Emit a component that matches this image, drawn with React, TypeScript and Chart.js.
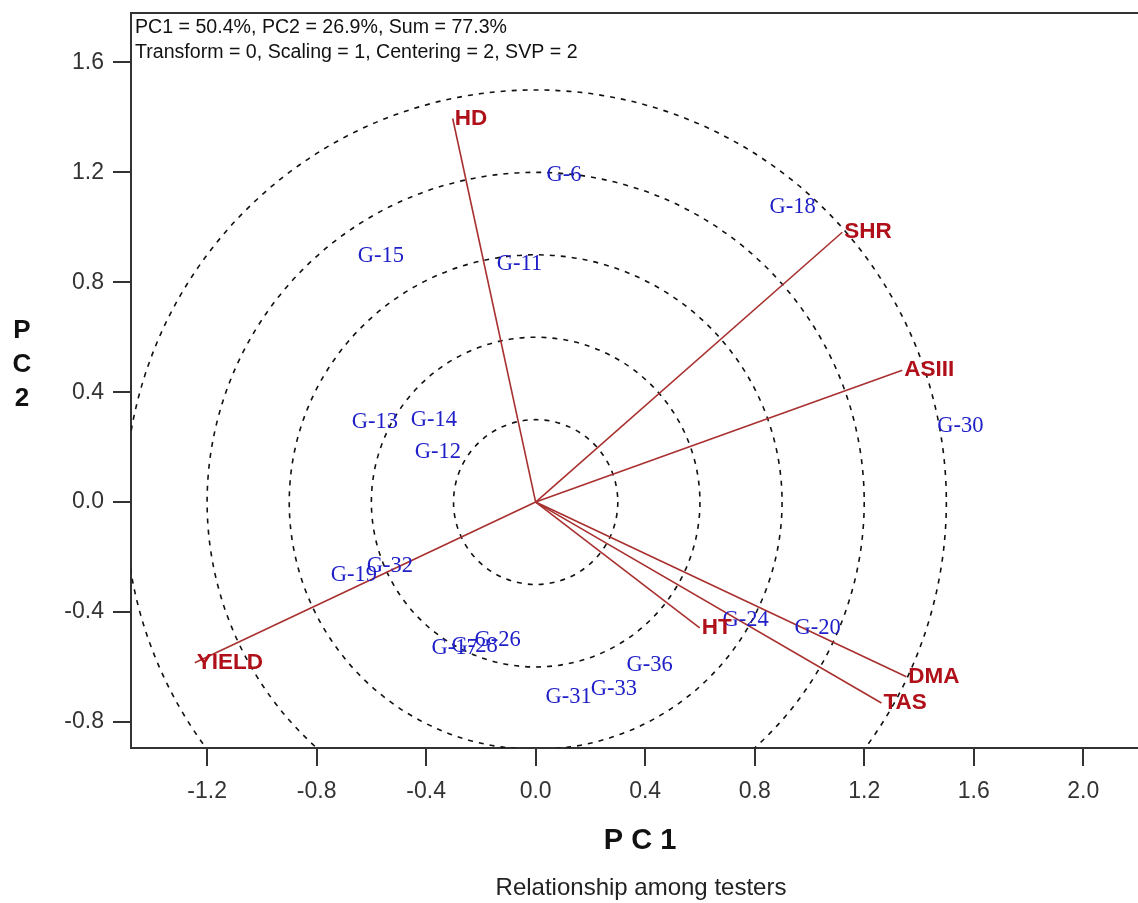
import React, { useEffect, useRef } from "react";
import { Chart, registerables } from "chart.js";

Chart.register(...registerables);

// ---- data ----
const testerNames = ["HD", "SHR", "ASIII", "DMA", "TAS", "HT", "YIELD"];
const testerPC1 = [-0.303, 1.12, 1.339, 1.354, 1.263, 0.599, -1.245];
const testerPC2 = [1.396, 0.982, 0.48, -0.636, -0.731, -0.458, -0.585];

const genNames = [
  "G-6", "G-18", "G-15", "G-11", "G-13", "G-14", "G-12", "G-30", "G-32",
  "G-19", "G-17", "G-28", "G-26", "G-36", "G-33", "G-31", "G-24", "G-20",
];
const genPC1 = [
  0.04, 0.854, -0.65, -0.142, -0.672, -0.456, -0.442, 1.467, -0.617,
  -0.748, -0.38, -0.307, -0.223, 0.332, 0.201, 0.036, 0.682, 0.945,
];
const genPC2 = [
  1.189, 1.073, 0.895, 0.865, 0.291, 0.298, 0.182, 0.276, -0.233,
  -0.265, -0.531, -0.524, -0.502, -0.593, -0.68, -0.709, -0.429, -0.458,
];

const ringRadii = [0.3, 0.6, 0.9, 1.2, 1.5];
const xTicks = [-1.2, -0.8, -0.4, 0.0, 0.4, 0.8, 1.2, 1.6, 2.0];
const yTicks = [-0.8, -0.4, 0.0, 0.4, 0.8, 1.2, 1.6];

const infoLines = [
  "PC1 = 50.4%, PC2 = 26.9%, Sum = 77.3%",
  "Transform = 0, Scaling = 1, Centering = 2, SVP = 2",
];
const xTitle = "P C 1";
const yTitle = ["P", "C", "2"];
const caption = "Relationship among testers";

const RED_LINE = "#a8302f";
const RED_TEXT = "#b0101a";
const BLUE = "#2020c8";
const AXIS = "#333333";

const biplotPlugin = {
  id: "biplot",
  beforeDatasetsDraw(chart: any) {
    const { ctx, chartArea, scales } = chart;
    const xs = scales.x;
    const ys = scales.y;
    const cx = xs.getPixelForValue(0);
    const cy = ys.getPixelForValue(0);
    ctx.save();
    ctx.beginPath();
    ctx.rect(chartArea.left, chartArea.top, chartArea.right - chartArea.left, chartArea.bottom - chartArea.top);
    ctx.clip();
    ctx.strokeStyle = "#111";
    ctx.lineWidth = 1.6;
    ctx.setLineDash([5, 6]);
    ringRadii.forEach((r) => {
      const rx = Math.abs(xs.getPixelForValue(r) - cx);
      const ry = Math.abs(ys.getPixelForValue(r) - cy);
      ctx.beginPath();
      ctx.ellipse(cx, cy, rx, ry, 0, 0, Math.PI * 2);
      ctx.stroke();
    });
    ctx.restore();
  },
  afterDatasetsDraw(chart: any) {
    const { ctx, chartArea, scales } = chart;
    const xs = scales.x;
    const ys = scales.y;
    ctx.save();
    // top border
    ctx.strokeStyle = AXIS;
    ctx.lineWidth = 2;
    ctx.setLineDash([]);
    ctx.beginPath();
    ctx.moveTo(chartArea.left, chartArea.top);
    ctx.lineTo(chartArea.right, chartArea.top);
    ctx.stroke();

    // generator labels
    ctx.font = '22.5px "Liberation Serif", "Times New Roman", serif';
    ctx.fillStyle = BLUE;
    ctx.textAlign = "left";
    ctx.textBaseline = "middle";
    genNames.forEach((n, i) => {
      ctx.fillText(n, xs.getPixelForValue(genPC1[i]), ys.getPixelForValue(genPC2[i]));
    });

    // tester labels
    ctx.font = 'bold 22.5px "Liberation Sans", Arial, sans-serif';
    ctx.fillStyle = RED_TEXT;
    testerNames.forEach((n, i) => {
      ctx.fillText(n, xs.getPixelForValue(testerPC1[i]) + 2, ys.getPixelForValue(testerPC2[i]));
    });

    // info text
    ctx.font = '19.6px "Liberation Sans", Arial, sans-serif';
    ctx.fillStyle = "#111";
    ctx.fillText(infoLines[0], chartArea.left + 4, chartArea.top + 15);
    ctx.fillText(infoLines[1], chartArea.left + 4, chartArea.top + 40);

    // axis titles
    ctx.font = 'bold 29px "Liberation Sans", Arial, sans-serif';
    ctx.fillStyle = "#111";
    ctx.textAlign = "center";
    ctx.fillText(xTitle, 640, 841);
    ctx.font = 'bold 26px "Liberation Sans", Arial, sans-serif';
    yTitle.forEach((c, i) => {
      ctx.fillText(c, 22, 331 + i * 34);
    });

    // caption
    ctx.font = '24px "Liberation Sans", Arial, sans-serif';
    ctx.fillStyle = "#222";
    ctx.fillText(caption, 641, 888);
    ctx.restore();
  },
};

export default function App() {
  const ref = useRef<HTMLCanvasElement | null>(null);
  useEffect(() => {
    if (!ref.current) return;
    const lineSets = testerNames.map((n, i) => ({
      label: n,
      data: [
        { x: 0, y: 0 },
        { x: testerPC1[i], y: testerPC2[i] },
      ],
      showLine: true,
      borderColor: RED_LINE,
      borderWidth: 1.6,
      pointRadius: 0,
      fill: false,
    }));
    const genSet = {
      label: "Genotypes",
      data: genNames.map((_, i) => ({ x: genPC1[i], y: genPC2[i] })),
      pointRadius: 0,
      showLine: false,
    };
    const tickFont = { family: '"Liberation Sans", Arial, sans-serif', size: 23 };
    const chart = new Chart(ref.current, {
      type: "scatter",
      data: { datasets: [...lineSets, genSet] as any },
      plugins: [biplotPlugin],
      options: {
        animation: false,
        responsive: false,
        devicePixelRatio: 1,
        layout: { padding: { left: 0, top: 13, right: 0, bottom: 0 } },
        plugins: { legend: { display: false }, tooltip: { enabled: false }, title: { display: false } },
        scales: {
          x: {
            type: "linear",
            min: -1.478,
            max: 2.2,
            afterBuildTicks: (s: any) => {
              s.ticks = xTicks.map((v) => ({ value: v }));
            },
            afterFit: (s: any) => {
              s.height = 155;
              s.paddingLeft = 0;
              s.paddingRight = 0;
            },
            grid: { display: true, drawOnChartArea: false, drawTicks: true, tickLength: 18, color: AXIS, lineWidth: 2 },
            border: { display: true, color: AXIS, width: 2 },
            ticks: {
              font: tickFont,
              color: "#333",
              padding: 12,
              maxRotation: 0,
              callback: (v: any) => Number(v).toFixed(1),
            },
          },
          y: {
            type: "linear",
            min: -0.895,
            max: 1.78,
            afterBuildTicks: (s: any) => {
              s.ticks = yTicks.map((v) => ({ value: v }));
            },
            afterFit: (s: any) => {
              s.width = 131;
              s.paddingTop = 0;
              s.paddingBottom = 0;
            },
            grid: { display: true, drawOnChartArea: false, drawTicks: true, tickLength: 18, color: AXIS, lineWidth: 2 },
            border: { display: true, color: AXIS, width: 2 },
            ticks: {
              font: tickFont,
              color: "#333",
              padding: 9,
              callback: (v: any) => Number(v).toFixed(1),
            },
          },
        },
      } as any,
    });
    return () => chart.destroy();
  }, []);
  return (
    <div style={{ position: "fixed", left: 0, top: 0, width: 1138, height: 903, background: "#fff" }}>
      <canvas ref={ref} width={1138} height={903} style={{ display: "block" }} />
    </div>
  );
}
